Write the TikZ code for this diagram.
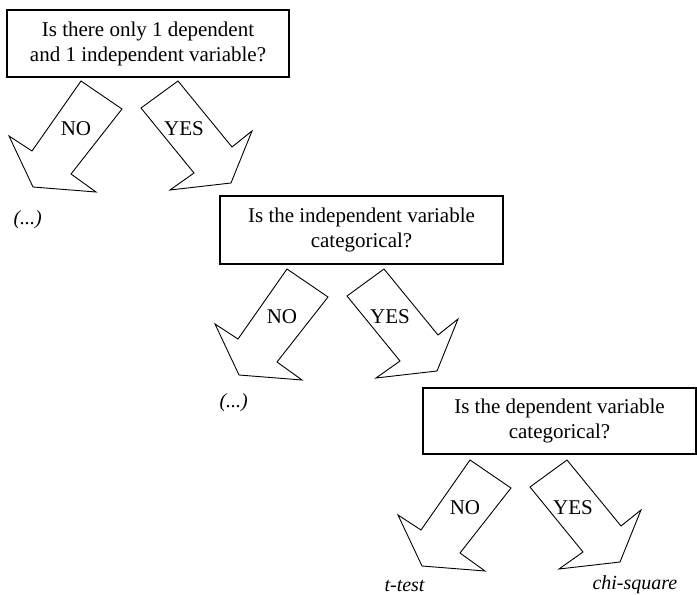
\documentclass[tikz,border=0pt]{standalone}
\usepackage{fontspec}
\setmainfont{Liberation Serif}
\usetikzlibrary{positioning}

\begin{document}
\begin{tikzpicture}[
      x=1pt,y=-1pt,
      qbox/.style={draw,line width=1.1pt,inner sep=0pt,align=center,
        font=\fontsize{21}{25}\selectfont},
      blk/.style={draw,line width=0.9pt,line join=miter,fill=white},
      ans/.style={font=\fontsize{21}{25}\selectfont},
      res/.style={anchor=base west,font=\fontsize{20}{24}\selectfont\itshape},
      pics/yesno/.style={code={
        \draw[blk] (0,0)--(41,28)--(-10,93)--(15,111)--(-48,106)--(-72,55)--(-49,70)--cycle;
        \draw[blk] (60,27)--(97,0)--(151,66)--(171,50)--(150,102)--(89,109)--(113,92)--cycle;
        \node[ans] (-no) at (-5,48) {NO};
        \node[ans] (-yes) at (103,48) {YES};
      }},
    ]
    \useasboundingbox (0,0) rectangle (697,595);
    % first question
    \node[qbox,minimum width=282pt,minimum height=67pt] (q1) at (148,43.5)
      {Is there only 1 dependent\\and 1 independent variable?};
    \pic (a1) at (81,81) {yesno};
    \node[res] (r1) at (10,224) {(...)};
    % second question
    \node[qbox,minimum width=283pt,minimum height=68pt] (q2) at (361.5,230)
      {Is the independent variable\\categorical?};
    \pic (a2) at (287,269) {yesno};
    \node[res] (r2) at (216,407) {(...)};
    % third question
    \node[qbox,minimum width=273pt,minimum height=66pt] (q3) at (559.5,421)
      {Is the dependent variable\\categorical?};
    \pic (a3) at (470,460) {yesno};
    \node[res] (ttest) at (381,591) {t-test};
    \node[res] (chisq) at (589,589) {chi-square};
  \end{tikzpicture}
\end{document}
